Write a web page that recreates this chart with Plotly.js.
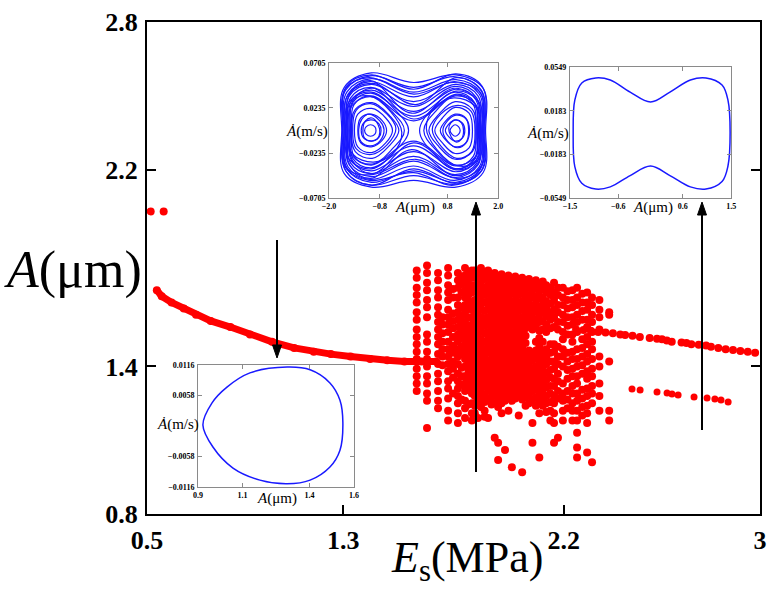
<!DOCTYPE html>
<html>
<head>
<meta charset="utf-8">
<script src="https://cdn.plot.ly/plotly-3.0.1.min.js"></script>
<style>
  html, body { margin: 0; padding: 0; background: #fff; }
  #chart { width: 776px; height: 594px; }
</style>
</head>
<body>
<div id="chart"></div>
<script>
// ---- Bifurcation diagram: amplitude A (μm) against modulus E_s (MPa) ----

// isolated high-amplitude points at the start of the sweep
const highE = [0.515, 0.568];
const highA = [2.03, 2.03];

// period-1 branch before the chaotic window
const periodE = [0.54, 0.56, 0.60, 0.65, 0.70, 0.76, 0.84, 0.92, 1.01, 1.10, 1.18, 1.25, 1.33, 1.41, 1.48, 1.55, 1.62, 1.68];
const periodA = [1.71, 1.685, 1.66, 1.635, 1.61, 1.585, 1.56, 1.53, 1.50, 1.475, 1.46, 1.45, 1.44, 1.43, 1.425, 1.42, 1.42, 1.42];

// chaotic window: one column of sampled amplitudes per E_s value
const chaosE = [
  1.600, 1.642, 1.687, 1.705, 1.728, 1.748, 1.768, 1.783, 1.797, 1.811, 1.825,
  1.837, 1.850, 1.862, 1.877, 1.891, 1.905, 1.918, 1.932, 1.946, 1.960, 1.974, 1.988,
  2.002, 2.016, 2.030, 2.044, 2.058, 2.072, 2.086, 2.100, 2.114, 2.128,
  2.145, 2.160, 2.176, 2.196, 2.215, 2.235, 2.254, 2.275, 2.295, 2.315, 2.345, 2.385
];
const chaosA = [
  [1.79, 1.76, 1.72, 1.69, 1.66, 1.62, 1.59, 1.55, 1.52, 1.49, 1.46, 1.43, 1.39, 1.36, 1.33, 1.30],
  [1.81, 1.78, 1.74, 1.71, 1.67, 1.64, 1.60, 1.53, 1.50, 1.46, 1.43, 1.40, 1.36, 1.33, 1.29, 1.26, 1.15],
  [1.78, 1.75, 1.71, 1.68, 1.64, 1.61, 1.58, 1.55, 1.52, 1.49, 1.45, 1.41, 1.37, 1.34, 1.30, 1.26, 1.23],
  [1.60, 1.57, 1.535, 1.50, 1.47, 1.44, 1.405],
  [1.80, 1.77, 1.73, 1.70, 1.67, 1.63, 1.60, 1.57, 1.54, 1.50, 1.47, 1.44, 1.41, 1.38, 1.34, 1.31, 1.27, 1.22, 1.18],
  [1.715, 1.68, 1.615, 1.585, 1.555, 1.52, 1.485, 1.455, 1.42, 1.39, 1.355, 1.29],
  [1.78, 1.75, 1.72, 1.68, 1.65, 1.62, 1.59, 1.56, 1.53, 1.50, 1.47, 1.44, 1.41, 1.37, 1.34, 1.31, 1.28, 1.25, 1.21, 1.17],
  [1.765, 1.735, 1.70, 1.64, 1.605, 1.575, 1.545, 1.515, 1.48, 1.45, 1.395, 1.36, 1.325, 1.265],
  [1.80, 1.77, 1.74, 1.71, 1.68, 1.65, 1.62, 1.58, 1.55, 1.52, 1.49, 1.46, 1.43, 1.40, 1.36, 1.33, 1.30, 1.26, 1.23, 1.19],
  [1.785, 1.755, 1.725, 1.69, 1.665, 1.635, 1.60, 1.565, 1.535, 1.505, 1.475, 1.44, 1.41, 1.375, 1.345, 1.315, 1.245],
  [1.79, 1.76, 1.73, 1.70, 1.66, 1.63, 1.60, 1.57, 1.54, 1.51, 1.48, 1.45, 1.42, 1.39, 1.35, 1.32, 1.29, 1.25, 1.21, 1.18],
  [1.79, 1.765, 1.73, 1.705, 1.67, 1.64, 1.615, 1.58, 1.555, 1.52, 1.49, 1.465, 1.43, 1.40, 1.375, 1.34, 1.31, 1.28, 1.24, 1.21],
  [1.78, 1.75, 1.715, 1.68, 1.655, 1.62, 1.59, 1.56, 1.53, 1.50, 1.47, 1.44, 1.415, 1.38, 1.35, 1.32, 1.29, 1.26, 1.19],
  [1.80, 1.77, 1.74, 1.70, 1.665, 1.635, 1.60, 1.575, 1.545, 1.51, 1.48, 1.45, 1.425, 1.39, 1.36, 1.33, 1.30, 1.27, 1.235],
  [1.785, 1.755, 1.72, 1.69, 1.66, 1.625, 1.595, 1.565, 1.535, 1.50, 1.47, 1.44, 1.41, 1.38, 1.35, 1.32, 1.285, 1.255, 1.22, 1.195],
  [1.79, 1.76, 1.73, 1.695, 1.665, 1.635, 1.60, 1.57, 1.54, 1.51, 1.48, 1.455, 1.42, 1.39, 1.36, 1.33, 1.30, 1.265, 1.19],
  [1.775, 1.745, 1.71, 1.68, 1.65, 1.615, 1.585, 1.55, 1.52, 1.49, 1.46, 1.43, 1.40, 1.37, 1.34, 1.31, 1.275, 1.245],
  [1.78, 1.75, 1.72, 1.69, 1.655, 1.625, 1.595, 1.565, 1.53, 1.50, 1.47, 1.44, 1.41, 1.38, 1.35, 1.32, 1.29, 1.25, 1.11],
  [1.765, 1.735, 1.70, 1.67, 1.64, 1.61, 1.575, 1.545, 1.515, 1.485, 1.45, 1.42, 1.39, 1.36, 1.33, 1.30, 1.27, 1.235, 1.09, 1.02],
  [1.775, 1.745, 1.715, 1.68, 1.65, 1.62, 1.59, 1.555, 1.525, 1.495, 1.465, 1.435, 1.40, 1.37, 1.34, 1.31, 1.28, 1.25, 1.21],
  [1.76, 1.73, 1.70, 1.665, 1.635, 1.605, 1.575, 1.545, 1.51, 1.48, 1.45, 1.42, 1.39, 1.355, 1.325, 1.295, 1.26, 1.06],
  [1.77, 1.74, 1.71, 1.68, 1.65, 1.615, 1.585, 1.555, 1.525, 1.49, 1.46, 1.43, 1.40, 1.37, 1.34, 1.305, 1.275, 1.22],
  [1.755, 1.725, 1.695, 1.66, 1.63, 1.60, 1.57, 1.535, 1.505, 1.475, 1.44, 1.41, 1.38, 1.35, 1.32, 1.285, 1.26, 0.99],
  [1.765, 1.735, 1.70, 1.67, 1.64, 1.61, 1.58, 1.545, 1.515, 1.485, 1.455, 1.42, 1.39, 1.36, 1.33, 1.30, 1.27],
  [1.75, 1.72, 1.69, 1.655, 1.625, 1.595, 1.56, 1.53, 1.50, 1.47, 1.435, 1.405, 1.375, 1.345, 1.31, 1.28, 1.20],
  [1.76, 1.73, 1.70, 1.665, 1.635, 1.60, 1.575, 1.54, 1.51, 1.48, 1.45, 1.42, 1.39, 1.36, 1.325, 1.295, 1.265, 0.97],
  [1.745, 1.715, 1.685, 1.65, 1.62, 1.59, 1.555, 1.525, 1.495, 1.46, 1.43, 1.40, 1.37, 1.34, 1.305, 1.275, 1.24],
  [1.755, 1.725, 1.69, 1.66, 1.63, 1.60, 1.565, 1.465, 1.44, 1.41, 1.38, 1.35, 1.315, 1.285, 1.25],
  [1.74, 1.71, 1.68, 1.645, 1.615, 1.585, 1.55, 1.455, 1.425, 1.39, 1.36, 1.33, 1.30, 1.265, 1.17, 1.09],
  [1.75, 1.72, 1.685, 1.655, 1.625, 1.59, 1.56, 1.50, 1.465, 1.435, 1.40, 1.37, 1.34, 1.31, 1.275, 1.24],
  [1.735, 1.705, 1.675, 1.64, 1.61, 1.58, 1.545, 1.515, 1.48, 1.445, 1.415, 1.385, 1.35, 1.32, 1.29, 1.255, 1.21, 1.03],
  [1.745, 1.715, 1.68, 1.65, 1.62, 1.585, 1.55, 1.50, 1.46, 1.43, 1.395, 1.365, 1.335, 1.30, 1.27, 1.24],
  [1.73, 1.70, 1.665, 1.635, 1.605, 1.57, 1.54, 1.47, 1.44, 1.41, 1.375, 1.345, 1.315, 1.28, 1.25, 1.215],
  [1.72, 1.69, 1.655, 1.62, 1.59, 1.555, 1.49, 1.455, 1.42, 1.385, 1.355, 1.32, 1.29, 1.255, 1.22, 1.18],
  [1.74, 1.70, 1.67, 1.63, 1.60, 1.56, 1.49, 1.46, 1.42, 1.39, 1.35, 1.32, 1.28, 1.25, 1.21, 1.17, 1.09],
  [1.72, 1.69, 1.65, 1.62, 1.58, 1.55, 1.48, 1.44, 1.41, 1.37, 1.34, 1.30, 1.27, 1.11],
  [1.72, 1.68, 1.65, 1.61, 1.58, 1.54, 1.51, 1.47, 1.44, 1.40, 1.33, 1.29, 1.26, 1.22, 1.18],
  [1.705, 1.67, 1.635, 1.60, 1.565, 1.53, 1.455, 1.42, 1.385, 1.35, 1.30, 1.265, 1.23],
  [1.71, 1.67, 1.64, 1.60, 1.57, 1.53, 1.50, 1.46, 1.43, 1.39, 1.36, 1.32, 1.29, 1.25, 1.22, 1.18],
  [1.72, 1.68, 1.65, 1.61, 1.58, 1.54, 1.47, 1.43, 1.40, 1.36, 1.33, 1.29, 1.26, 1.22, 1.18, 1.13, 1.07, 1.03],
  [1.695, 1.66, 1.625, 1.59, 1.51, 1.475, 1.44, 1.405, 1.37, 1.305, 1.27, 1.235, 1.20],
  [1.70, 1.66, 1.63, 1.59, 1.56, 1.52, 1.49, 1.45, 1.42, 1.38, 1.35, 1.31, 1.28, 1.24, 1.21, 1.17, 1.05],
  [1.68, 1.65, 1.61, 1.58, 1.54, 1.50, 1.47, 1.43, 1.39, 1.36, 1.32, 1.29, 1.25, 1.01],
  [1.67, 1.63, 1.60, 1.55, 1.44, 1.40, 1.33, 1.28, 1.22],
  [1.62, 1.61, 1.42, 1.22, 1.18]
];

// periodic branches after the chaotic window
const upperE = [2.25, 2.28, 2.31, 2.34, 2.37, 2.40, 2.43, 2.45, 2.48, 2.51, 2.55, 2.58, 2.60, 2.62, 2.64,
                2.68, 2.70, 2.72, 2.75, 2.78, 2.80, 2.83, 2.86, 2.89, 2.92, 2.95, 2.98];
const upperA = [1.55, 1.548, 1.545, 1.54, 1.538, 1.535, 1.53, 1.528, 1.525, 1.52, 1.515, 1.512, 1.51, 1.505, 1.50,
                1.497, 1.495, 1.49, 1.488, 1.485, 1.48, 1.475, 1.47, 1.467, 1.463, 1.46, 1.455];
const lowerE = [2.478, 2.511, 2.580, 2.621, 2.641, 2.666, 2.731, 2.784, 2.816, 2.841, 2.870];
const lowerA = [1.308, 1.304, 1.296, 1.292, 1.288, 1.284, 1.276, 1.272, 1.267, 1.263, 1.255];

// ---- Phase portraits (displacement A in μm, velocity in m/s) ----

// chaotic attractor: large loops enclosing both wells
const chaosLoopX = [
  [-1.70, -1.64, -1.00, 0, 1.00, 1.64, 1.70, 1.64, 1.00, 0, -1.00, -1.64, -1.70],
  [-1.67, -1.61, -1.02, 0, 0.98, 1.60, 1.66, 1.60, 0.98, 0, -1.02, -1.61, -1.67],
  [-1.64, -1.58, -1.00, 0, 1.00, 1.57, 1.63, 1.57, 1.00, 0, -1.00, -1.58, -1.64],
  [-1.61, -1.55, -1.03, 0, 0.97, 1.55, 1.61, 1.55, 0.97, 0, -1.03, -1.55, -1.61],
  [-1.58, -1.52, -1.00, 0, 1.00, 1.52, 1.58, 1.52, 1.00, 0, -1.00, -1.52, -1.58],
  [-1.55, -1.49, -1.02, 0, 0.98, 1.49, 1.55, 1.49, 0.98, 0, -1.02, -1.49, -1.55],
  [-1.52, -1.46, -1.00, 0, 1.00, 1.47, 1.53, 1.47, 1.00, 0, -1.00, -1.46, -1.52],
  [-1.49, -1.44, -1.01, 0, 0.99, 1.44, 1.50, 1.44, 0.99, 0, -1.01, -1.44, -1.49],
  [-1.46, -1.41, -1.00, 0, 1.00, 1.41, 1.47, 1.41, 1.00, 0, -1.00, -1.41, -1.46],
  [-1.68, -1.62, -1.05, 0, 0.95, 1.58, 1.64, 1.58, 0.95, 0, -1.05, -1.62, -1.68],
  [-1.62, -1.56, -0.98, 0.05, 1.02, 1.60, 1.66, 1.60, 1.02, 0.05, -0.98, -1.56, -1.62],
  [-1.57, -1.51, -1.02, -0.05, 0.97, 1.51, 1.57, 1.51, 0.97, -0.05, -1.02, -1.51, -1.57],
  [-1.50, -1.45, -0.97, 0, 1.03, 1.46, 1.51, 1.46, 1.03, 0, -0.97, -1.45, -1.50],
  [-1.65, -1.59, -1.00, 0, 1.00, 1.62, 1.68, 1.62, 1.00, 0, -1.00, -1.59, -1.65]
];
const chaosLoopV = [
  [0, 0.045, 0.060, 0.050, 0.058, 0.044, 0, -0.044, -0.059, -0.052, -0.059, -0.045, 0],
  [0, 0.042, 0.057, 0.045, 0.056, 0.042, 0, -0.042, -0.056, -0.047, -0.057, -0.042, 0],
  [0, 0.040, 0.054, 0.040, 0.053, 0.040, 0, -0.040, -0.054, -0.042, -0.054, -0.040, 0],
  [0, 0.038, 0.051, 0.035, 0.051, 0.038, 0, -0.038, -0.052, -0.037, -0.051, -0.038, 0],
  [0, 0.036, 0.048, 0.030, 0.048, 0.036, 0, -0.036, -0.049, -0.032, -0.048, -0.036, 0],
  [0, 0.034, 0.045, 0.025, 0.046, 0.034, 0, -0.034, -0.046, -0.027, -0.045, -0.034, 0],
  [0, 0.032, 0.042, 0.020, 0.043, 0.032, 0, -0.032, -0.043, -0.022, -0.042, -0.032, 0],
  [0, 0.029, 0.039, 0.015, 0.040, 0.029, 0, -0.029, -0.040, -0.016, -0.039, -0.029, 0],
  [0, 0.027, 0.036, 0.010, 0.037, 0.027, 0, -0.027, -0.037, -0.011, -0.036, -0.027, 0],
  [0.004, 0.043, 0.055, 0.038, 0.050, 0.039, 0.002, -0.040, -0.057, -0.044, -0.052, -0.038, 0.004],
  [-0.003, 0.036, 0.049, 0.027, 0.055, 0.041, -0.002, -0.037, -0.050, -0.030, -0.046, -0.040, -0.003],
  [0, 0.038, 0.052, 0.018, 0.044, 0.031, 0, -0.035, -0.047, -0.020, -0.050, -0.036, 0],
  [0.002, 0.030, 0.044, 0.012, 0.038, 0.027, 0, -0.029, -0.040, -0.013, -0.045, -0.031, 0.002],
  [0, 0.046, 0.058, 0.043, 0.059, 0.046, 0, -0.041, -0.055, -0.040, -0.057, -0.043, 0]
];
// chaotic attractor: loops trapped in the left and right wells
const wellLoopX = [
  [-1.62, -1.52, -1.00, -0.45, -0.12, -0.45, -1.00, -1.52, -1.62],
  [-1.55, -1.46, -0.98, -0.50, -0.22, -0.50, -0.98, -1.46, -1.55],
  [-1.47, -1.38, -0.98, -0.58, -0.35, -0.58, -0.98, -1.38, -1.47],
  [-1.40, -1.32, -0.99, -0.66, -0.50, -0.66, -0.99, -1.32, -1.40],
  [-1.32, -1.25, -1.00, -0.74, -0.64, -0.74, -1.00, -1.25, -1.32],
  [-1.24, -1.18, -1.00, -0.82, -0.77, -0.82, -1.00, -1.18, -1.24],
  [-1.16, -1.12, -1.02, -0.92, -0.89, -0.92, -1.02, -1.12, -1.16],
  [-1.58, -1.48, -1.05, -0.55, -0.28, -0.50, -0.95, -1.45, -1.58],
  [-1.44, -1.36, -1.02, -0.63, -0.42, -0.63, -1.00, -1.36, -1.44],
  [-1.30, -1.22, -1.06, -0.80, -0.70, -0.80, -1.02, -1.24, -1.30],
  [-1.20, -1.14, -0.98, -0.84, -0.80, -0.86, -1.00, -1.16, -1.20],
  [1.64, 1.52, 1.00, 0.45, 0.14, 0.45, 1.00, 1.52, 1.64],
  [1.56, 1.47, 0.99, 0.52, 0.24, 0.52, 0.99, 1.47, 1.56],
  [1.48, 1.39, 0.98, 0.60, 0.36, 0.60, 0.98, 1.39, 1.48],
  [1.39, 1.31, 0.98, 0.68, 0.50, 0.68, 0.98, 1.31, 1.39],
  [1.30, 1.23, 0.98, 0.76, 0.63, 0.76, 0.98, 1.23, 1.30],
  [1.21, 1.15, 0.98, 0.84, 0.75, 0.84, 0.98, 1.15, 1.21],
  [1.10, 1.06, 0.98, 0.91, 0.86, 0.91, 0.98, 1.06, 1.10],
  [1.60, 1.48, 1.05, 0.55, 0.30, 0.50, 0.95, 1.46, 1.60],
  [1.45, 1.37, 1.02, 0.64, 0.44, 0.64, 1.00, 1.36, 1.45],
  [1.32, 1.24, 1.04, 0.80, 0.69, 0.80, 1.00, 1.24, 1.32],
  [1.18, 1.13, 1.00, 0.88, 0.83, 0.88, 1.00, 1.13, 1.18]
];
const wellLoopV = [
  [0, 0.030, 0.040, 0.022, 0, -0.022, -0.040, -0.030, 0],
  [0, 0.026, 0.035, 0.019, 0, -0.019, -0.035, -0.026, 0],
  [0, 0.022, 0.029, 0.016, 0, -0.016, -0.029, -0.022, 0],
  [0, 0.017, 0.023, 0.013, 0, -0.013, -0.023, -0.017, 0],
  [0, 0.013, 0.017, 0.010, 0, -0.010, -0.017, -0.013, 0],
  [0, 0.008, 0.011, 0.007, 0, -0.007, -0.011, -0.008, 0],
  [0, 0.004, 0.006, 0.004, 0, -0.004, -0.006, -0.004, 0],
  [0.003, 0.030, 0.036, 0.020, -0.002, -0.024, -0.033, -0.024, 0.003],
  [-0.002, 0.021, 0.028, 0.017, 0.002, -0.015, -0.025, -0.019, -0.002],
  [0.001, 0.012, 0.017, 0.010, 0.001, -0.011, -0.016, -0.012, 0.001],
  [0, 0.010, 0.013, 0.006, -0.002, -0.009, -0.011, -0.008, 0],
  [0, -0.031, -0.041, -0.023, 0, 0.023, 0.041, 0.031, 0],
  [0, -0.027, -0.036, -0.020, 0, 0.020, 0.036, 0.027, 0],
  [0, -0.022, -0.030, -0.017, 0, 0.017, 0.030, 0.022, 0],
  [0, -0.018, -0.024, -0.013, 0, 0.013, 0.024, 0.018, 0],
  [0, -0.013, -0.017, -0.010, 0, 0.010, 0.017, 0.013, 0],
  [0, -0.008, -0.011, -0.007, 0, 0.007, 0.011, 0.008, 0],
  [0, -0.004, -0.006, -0.004, 0, 0.004, 0.006, 0.004, 0],
  [0.002, -0.031, -0.037, -0.020, 0.002, 0.024, 0.034, 0.025, 0.002],
  [-0.001, -0.022, -0.029, -0.016, 0.001, 0.017, 0.026, 0.020, -0.001],
  [0.001, -0.013, -0.018, -0.011, 0.000, 0.010, 0.016, 0.012, 0.001],
  [0, -0.009, -0.012, -0.006, 0.002, 0.008, 0.011, 0.008, 0]
];

// period-1 orbit enclosing both wells
const cycle2X = [-1.44, -1.41, -1.28, -1.02, -0.75, -0.38, 0.0, 0.36, 0.74, 1.03, 1.33, 1.44, 1.48,
                 1.44, 1.33, 1.03, 0.74, 0.36, 0.0, -0.38, -0.75, -1.02, -1.28, -1.41, -1.44];
const cycle2V = [0.0, 0.0272, 0.0415, 0.0457, 0.0440, 0.0339, 0.0256, 0.0339, 0.0440, 0.0457, 0.0398, 0.0272, 0.0,
                 -0.0280, -0.0410, -0.0473, -0.0455, -0.0360, -0.0280, -0.0360, -0.0455, -0.0473, -0.0425, -0.0285, 0.0];

// period-1 orbit in a single well
const cycle3X = [0.922, 0.963, 1.030, 1.133, 1.300, 1.403, 1.492, 1.537, 1.550, 1.537, 1.492, 1.403, 1.300, 1.178, 1.057, 0.967, 0.922];
const cycle3V = [0.0002, 0.0044, 0.0074, 0.0101, 0.0112, 0.0107, 0.0082, 0.0049, 0.0006, -0.0046, -0.0078, -0.0103, -0.0110, -0.0103, -0.0080, -0.0040, 0.0002];

// tick labels
const mainXTicks = [0.5, 1.3, 2.2, 3];
const mainYTicks = [0.8, 1.4, 2.2, 2.8];
const in1XTicks = [-2.0, -0.8, 0.8, 2.0],  in1XText = ['−2.0', '−0.8', '0.8', '2.0'];
const in1YTicks = [0.0705, 0.0235, -0.0235, -0.0705], in1YText = ['0.0705', '0.0235', '−0.0235', '−0.0705'];
const in2XTicks = [-1.5, -0.6, 0.6, 1.5],  in2XText = ['−1.5', '−0.6', '0.6', '1.5'];
const in2YTicks = [0.0549, 0.0183, -0.0183, -0.0549], in2YText = ['0.0549', '0.0183', '−0.0183', '−0.0549'];
const in3XTicks = [0.9, 1.1, 1.4, 1.6],    in3XText = ['0.9', '1.1', '1.4', '1.6'];
const in3YTicks = [0.0116, 0.0058, -0.0058, -0.0116], in3YText = ['0.0116', '0.0058', '−0.0058', '−0.0116'];

// ---- build traces ----
const RED = '#ff0000';
const BLUE = 'rgb(25,25,255)';
const SERIF = 'Liberation Serif';

const chaosX = [], chaosY = [];
chaosE.forEach((e, i) => chaosA[i].forEach(a => { chaosX.push(e); chaosY.push(a); }));

function joinLoops(xs, ys) {
  const X = [], Y = [];
  xs.forEach((loop, i) => {
    loop.forEach((v, j) => { X.push(v); Y.push(ys[i][j]); });
    X.push(null); Y.push(null);
  });
  return { X, Y };
}
const big = joinLoops(chaosLoopX.concat(wellLoopX), chaosLoopV.concat(wellLoopV));

const dot = { color: RED, size: 8, line: { width: 0 } };
const traces = [
  { x: periodE, y: periodA, mode: 'lines+markers', line: { color: RED, width: 7 }, marker: dot, xaxis: 'x', yaxis: 'y' },
  { x: highE, y: highA, mode: 'markers', marker: dot, xaxis: 'x', yaxis: 'y' },
  { x: chaosX, y: chaosY, mode: 'markers', marker: dot, xaxis: 'x', yaxis: 'y' },
  { x: upperE, y: upperA, mode: 'markers', marker: dot, xaxis: 'x', yaxis: 'y' },
  { x: lowerE, y: lowerA, mode: 'markers', marker: { color: RED, size: 7 }, xaxis: 'x', yaxis: 'y' },
  { x: big.X, y: big.Y, mode: 'lines', line: { color: BLUE, width: 1.2, shape: 'spline', smoothing: 1.1 }, connectgaps: false, xaxis: 'x2', yaxis: 'y2' },
  { x: cycle2X, y: cycle2V, mode: 'lines', line: { color: BLUE, width: 1.5, shape: 'spline' }, xaxis: 'x3', yaxis: 'y3' },
  { x: cycle3X, y: cycle3V, mode: 'lines', line: { color: BLUE, width: 1.5, shape: 'spline' }, xaxis: 'x4', yaxis: 'y4' }
];

// ---- axes ----
const mainTickFont = { family: SERIF, size: 26, color: '#000', weight: 'bold' };
const insetTickFont = { family: SERIF, size: 8, color: '#000', weight: 'bold' };

function insetAxis(domain, anchor, range, vals, text, isX) {
  return {
    domain, anchor, range, tickvals: vals, ticktext: text,
    ticks: 'inside', ticklen: 4, tickwidth: 1, tickcolor: '#8a8a8a',
    showline: true, linecolor: '#8a8a8a', linewidth: 1, mirror: 'ticks',
    showgrid: false, zeroline: false, tickfont: insetTickFont,
    ticklabelstandoff: isX ? 0 : 1, fixedrange: true
  };
}

const layout = {
  width: 776, height: 594,
  margin: { l: 147, r: 16, t: 22, b: 80 },
  paper_bgcolor: '#fff', plot_bgcolor: '#fff',
  showlegend: false,
  xaxis: {
    domain: [0, 1], range: [0.5, 3], tickvals: mainXTicks, ticktext: mainXTicks.map(String),
    ticks: 'inside', ticklen: 9, tickwidth: 2, tickcolor: '#000',
    showline: true, linewidth: 2, linecolor: '#000', mirror: true,
    showgrid: false, zeroline: false, tickfont: mainTickFont, ticklabelstandoff: 2
  },
  yaxis: {
    domain: [0, 1], range: [0.8, 2.8], tickvals: mainYTicks, ticktext: mainYTicks.map(String),
    ticks: 'inside', ticklen: 9, tickwidth: 2, tickcolor: '#000',
    showline: true, linewidth: 2, linecolor: '#000', mirror: 'ticks',
    showgrid: false, zeroline: false, tickfont: mainTickFont, ticklabelstandoff: 2
  },
  xaxis2: insetAxis([0.297, 0.573], 'y2', [-2, 2], in1XTicks, in1XText, true),
  yaxis2: insetAxis([0.642, 0.917], 'x2', [-0.0705, 0.0705], in1YTicks, in1YText, false),
  xaxis3: insetAxis([0.690, 0.953], 'y3', [-1.5, 1.5], in2XTicks, in2XText, true),
  yaxis3: insetAxis([0.642, 0.9085], 'x3', [-0.0549, 0.0549], in2YTicks, in2YText, false),
  xaxis4: insetAxis([0.0832, 0.3377], 'y4', [0.9, 1.6], in3XTicks, in3XText, true),
  yaxis4: insetAxis([0.0549, 0.3028], 'x4', [-0.0116, 0.0116], in3YTicks, in3YText, false),
  shapes: [],
  annotations: []
};

// arrows linking the insets to their parameter values (paper coordinates)
function arrowShapes(x, yTail, yTip, dir) {
  const headLen = 13 / 492, halfW = 4.5 / 613;
  const yBase = yTip - dir * headLen;
  return [
    { type: 'line', xref: 'paper', yref: 'paper', x0: x, x1: x, y0: yTail, y1: yBase,
      line: { color: '#000', width: 2 } },
    { type: 'path', xref: 'paper', yref: 'paper',
      path: `M ${x - halfW},${yBase} L ${x + halfW},${yBase} L ${x},${yTip} Z`,
      fillcolor: '#000', line: { color: '#000', width: 1 } }
  ];
}
layout.shapes.push(...arrowShapes(0.2121, 0.5569, 0.3171, -1));
layout.shapes.push(...arrowShapes(0.5367, 0.0854, 0.6341, 1));
layout.shapes.push(...arrowShapes(0.9054, 0.1707, 0.6341, 1));

// axis titles
const label = (x, y, text, size) => ({
  xref: 'paper', yref: 'paper', x, y, xanchor: 'center', yanchor: 'middle',
  text, showarrow: false, font: { family: SERIF, size, color: '#000' }
});
layout.annotations.push(label(-0.121, 0.496, '<i>A</i>(μm)', 52));
layout.annotations.push(label(0.522, -0.095, '<i>E</i><sub>s</sub>(MPa)', 44));
layout.annotations.push(label(0.437, 0.622, '<i>A</i>(μm)', 15));
layout.annotations.push(label(0.261, 0.778, '<i>Ȧ</i>(m/s)', 15));
layout.annotations.push(label(0.825, 0.622, '<i>A</i>(μm)', 15));
layout.annotations.push(label(0.654, 0.774, '<i>Ȧ</i>(m/s)', 15));
layout.annotations.push(label(0.212, 0.0325, '<i>A</i>(μm)', 15));
layout.annotations.push(label(0.0506, 0.181, '<i>Ȧ</i>(m/s)', 15));

Plotly.newPlot('chart', traces, layout, { staticPlot: true, displayModeBar: false });
</script>
</body>
</html>
